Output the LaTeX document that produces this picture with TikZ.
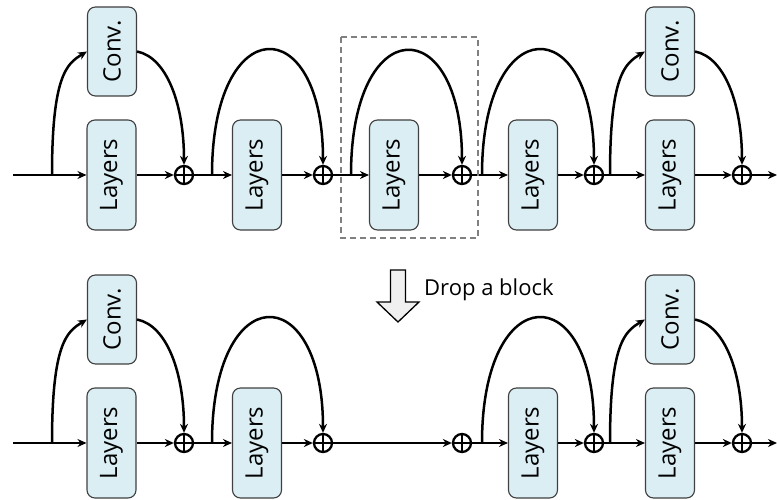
\documentclass[tikz,border=0pt]{standalone}
\usepackage{fontspec}
\setmainfont{Open Sans}
\usetikzlibrary{arrows.meta}
\definecolor{boxfill}{HTML}{DAEEF3}
\definecolor{boxdraw}{HTML}{404040}
\begin{document}
\begin{tikzpicture}[x=1pt,y=-1pt,
  blk/.style={draw=boxdraw, line width=1.1pt, fill=boxfill, rounded corners=8pt, minimum width=49pt, minimum height=110pt, inner sep=0pt},
  conv/.style={blk, minimum height=89pt},
  lbl/.style={rotate=90, inner sep=0pt, font=\fontsize{24}{28}\selectfont},
  sumn/.style={circle, draw, line width=2.3pt, minimum size=18pt, inner sep=0pt,
    path picture={\draw[line width=2pt] (path picture bounding box.north) -- (path picture bounding box.south) (path picture bounding box.west) -- (path picture bounding box.east);}},
  con/.style={line width=2.5pt, -{Stealth[length=9pt,width=8pt]}},
  ln/.style={line width=2.5pt}
]
\useasboundingbox (0,0) rectangle (777,500);

\foreach \r/\dy in {t/0, b/268}{
  % block 1 (with conv)
  \coordinate (in\r) at (13,175+\dy);
  \coordinate (B1\r) at (52,175+\dy);
  \node[blk] (L1\r) at (111.5,175+\dy) {};
  \node[lbl] (L1\r x) at (L1\r) {Layers};
  \node[conv] (C1\r) at (112,51.5+\dy) {};
  \node[lbl] (C1\r x) at (C1\r) {Conv.};
  \node[sumn] (S1\r) at (184,175+\dy) {};
  \draw[ln] (in\r) -- (B1\r);
  \draw[con] (B1\r) -- (L1\r.west);
  \draw[con] (B1\r) .. controls +(0,-100) and +(-20,12) .. (C1\r.west);
  \draw[con] (C1\r.east) .. controls +(30,6) and +(0,-60) .. (S1\r.north);
  \draw[con] (L1\r.east) -- (S1\r.west);
  % block 2
  \coordinate (B2\r) at (212,175+\dy);
  \node[blk] (L2\r) at (257,175+\dy) {};
  \node[lbl] (L2\r x) at (L2\r) {Layers};
  \node[sumn] (S2\r) at (323,175+\dy) {};
  \draw[ln] (S1\r.east) -- (B2\r);
  \draw[con] (B2\r) -- (L2\r.west);
  \draw[con] (B2\r) .. controls +(0,-165) and +(0,-155.5) .. (S2\r.north);
  \draw[con] (L2\r.east) -- (S2\r.west);
  % block 4
  \coordinate (B4\r) at (482,175+\dy);
  \node[blk] (L4\r) at (533,175+\dy) {};
  \node[lbl] (L4\r x) at (L4\r) {Layers};
  \node[sumn] (S4\r) at (594,175+\dy) {};
  \draw[con] (B4\r) -- (L4\r.west);
  \draw[con] (B4\r) .. controls +(0,-165) and +(0,-155.5) .. (S4\r.north);
  \draw[con] (L4\r.east) -- (S4\r.west);
  % block 5 (with conv)
  \coordinate (B5\r) at (610,175+\dy);
  \node[blk] (L5\r) at (670,175+\dy) {};
  \node[lbl] (L5\r x) at (L5\r) {Layers};
  \node[conv] (C5\r) at (670,51.5+\dy) {};
  \node[lbl] (C5\r x) at (C5\r) {Conv.};
  \node[sumn] (S5\r) at (742,175+\dy) {};
  \coordinate (out\r) at (777,175+\dy);
  \draw[ln] (S4\r.east) -- (B5\r);
  \draw[con] (B5\r) -- (L5\r.west);
  \draw[con] (B5\r) .. controls +(0,-100) and +(-20,12) .. (C5\r.west);
  \draw[con] (C5\r.east) .. controls +(30,6) and +(0,-60) .. (S5\r.north);
  \draw[con] (L5\r.east) -- (S5\r.west);
  \draw[con] (S5\r.east) -- (out\r);
}

% block 3 (top row only)
\coordinate (B3t) at (351,175);
\node[blk] (L3t) at (394,175) {};
\node[lbl] (L3t x) at (L3t) {Layers};
\node[sumn] (S3t) at (462,175) {};
\draw[ln] (S2t.east) -- (B3t);
\draw[con] (B3t) -- (L3t.west);
\draw[con] (B3t) .. controls +(0,-164) and +(0,-154.5) .. (S3t.north);
\draw[con] (L3t.east) -- (S3t.west);
\draw[ln] (S3t.east) -- (B4t);
\draw[gray, dashed, line width=1.3pt, dash pattern=on 6pt off 4pt] (341,37) rectangle (478,238);

% bottom row: dropped block
\node[sumn] (S3b) at (462,443) {};
\draw[con] (S2b.east) -- (S3b.west);
\draw[ln] (S3b.east) -- (B4b);

% drop arrow
\draw[fill=gray!12, line width=1.3pt, line join=miter] (390.5,270) -- (405.5,270) -- (405.5,302) -- (419,302) -- (398,322) -- (377,302) -- (390.5,302) -- cycle;
\node[anchor=west, inner sep=0pt, font=\fontsize{22}{26}\selectfont] (drop) at (424,290) {Drop a block};
\end{tikzpicture}
\end{document}
